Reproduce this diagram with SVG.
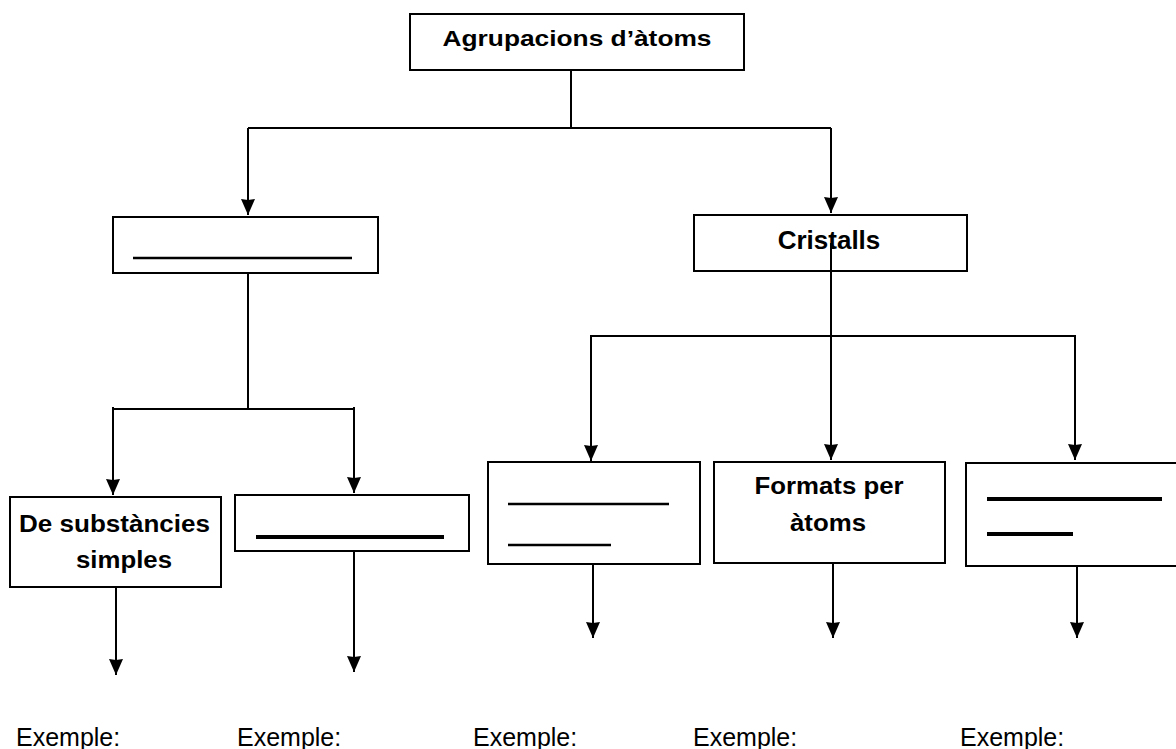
<svg xmlns="http://www.w3.org/2000/svg" width="1176" height="749" viewBox="0 0 1176 749">
<style>
.box{fill:#fff;stroke:#000;stroke-width:2}
.ln{fill:none;stroke:#000;stroke-width:2}
.blank{stroke:#000;stroke-width:2.5}
.blank4{stroke:#000;stroke-width:4}
.t{font-family:"Liberation Sans",Arial,sans-serif;font-weight:bold;fill:#000}
.ex{font-family:"Liberation Sans",Arial,sans-serif;font-size:25px;fill:#000}
</style>
<defs>
<marker id="ah" viewBox="0 0 16 14" refX="16" refY="7" markerWidth="16" markerHeight="14" markerUnits="userSpaceOnUse" orient="auto">
<path d="M0,0 L16,7 L0,14 L1,7 z" fill="#000"/>
</marker>
</defs>
<g id="connectors">
<path class="ln" d="M571,70 V128"/>
<path class="ln" d="M248,128 H831"/>
<path class="ln" d="M248,128 V215" marker-end="url(#ah)"/>
<path class="ln" d="M831,128 V213" marker-end="url(#ah)"/>
<path class="ln" d="M248,273 V409"/>
<path class="ln" d="M113,409 H354"/>
<path class="ln" d="M113,407 V495" marker-end="url(#ah)"/>
<path class="ln" d="M354,407 V493" marker-end="url(#ah)"/>
<path class="ln" d="M116,587 V675" marker-end="url(#ah)"/>
<path class="ln" d="M354,551 V672" marker-end="url(#ah)"/>
<path class="ln" d="M591,336 H1075"/>
<path class="ln" d="M591,335 V461" marker-end="url(#ah)"/>
<path class="ln" d="M1075,335 V460" marker-end="url(#ah)"/>
<path class="ln" d="M593,564 V638" marker-end="url(#ah)"/>
<path class="ln" d="M833,563 V638" marker-end="url(#ah)"/>
<path class="ln" d="M1077,566 V638" marker-end="url(#ah)"/>
</g>
<g id="n-agrupacions">
<rect class="box" x="410" y="14" width="334" height="56"/>
<text class="t" x="577" y="46" font-size="22.5" text-anchor="middle" textLength="269" lengthAdjust="spacingAndGlyphs">Agrupacions d’àtoms</text>
</g>
<g id="n-blank1">
<rect class="box" x="113" y="217" width="265" height="56"/>
<line class="blank" x1="133" y1="258" x2="352" y2="258"/>
</g>
<g id="n-cristalls">
<rect class="box" x="694" y="215" width="273" height="56"/>
<text class="t" x="829" y="249" font-size="26" text-anchor="middle">Cristalls</text>
</g>
<g id="connector-through">
<path class="ln" d="M831,243 V460" marker-end="url(#ah)"/>
</g>
<g id="n-simples">
<rect class="box" x="10" y="497" width="211" height="90"/>
<text class="t" x="114.5" y="532" font-size="23.5" text-anchor="middle" textLength="191" lengthAdjust="spacingAndGlyphs">De substàncies</text>
<text class="t" x="124" y="568" font-size="23.5" text-anchor="middle" textLength="96" lengthAdjust="spacingAndGlyphs">simples</text>
</g>
<g id="n-blank2">
<rect class="box" x="235" y="495" width="234" height="56"/>
<line class="blank4" x1="256" y1="537" x2="444" y2="537"/>
</g>
<g id="n-blank3">
<rect class="box" x="488" y="462" width="212" height="102"/>
<line class="blank" x1="508" y1="504" x2="669" y2="504"/>
<line class="blank" x1="508" y1="545" x2="611" y2="545"/>
</g>
<g id="n-formats">
<rect class="box" x="714" y="462" width="231" height="101"/>
<text class="t" x="829" y="494" font-size="24" text-anchor="middle" textLength="149" lengthAdjust="spacingAndGlyphs">Formats per</text>
<text class="t" x="828" y="531" font-size="24" text-anchor="middle" textLength="76" lengthAdjust="spacingAndGlyphs">àtoms</text>
</g>
<g id="n-blank4">
<rect class="box" x="966" y="463" width="220" height="103"/>
<line class="blank4" x1="987" y1="499" x2="1162" y2="499"/>
<line class="blank4" x1="987" y1="534" x2="1073" y2="534"/>
</g>
<g id="examples">
<text class="ex" x="16" y="746">Exemple:</text>
<text class="ex" x="237" y="746">Exemple:</text>
<text class="ex" x="473" y="746">Exemple:</text>
<text class="ex" x="693" y="746">Exemple:</text>
<text class="ex" x="960" y="746">Exemple:</text>
</g>
</svg>
